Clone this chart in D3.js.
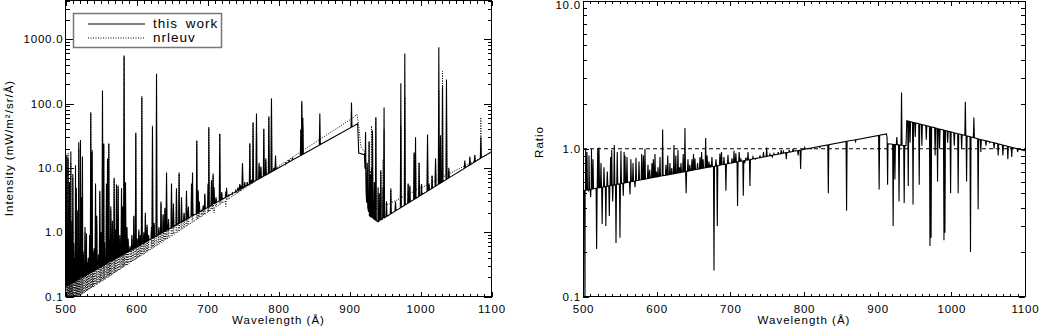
<!DOCTYPE html>
<html>
<head>
<meta charset="utf-8">
<script src="https://cdn.jsdelivr.net/npm/d3@7"></script>
<style>
    body { margin: 0; background: #fff; }
    svg text { font-family: "Liberation Sans", Arial, sans-serif; font-size: 11.5px; letter-spacing: 1px; fill: #000; }
    .axis text { letter-spacing: 0.8px; }
    .legend text { font-size: 13.5px; word-spacing: 3px; }
    .axis path.domain { display: none; }
    .axis line { stroke: #000; shape-rendering: crispEdges; }
</style>
</head>
<body>
<div class="spectra"></div>
<script>
var xTicks = [500, 600, 700, 800, 900, 1000, 1100];
var intensityTicks = [0.1, 1, 10, 100, 1000];
var ratioTicks = [0.1, 1, 10];
var legendNames = ["this work", "nrleuv"];

// continuum knots (wavelength in A, intensity)
var thisContWl = [500, 911.5, 913, 921, 924, 928, 940, 1100];
var thisContVal = [0.142, 48.5, 17, 16, 3, 1.8, 1.45, 17.9];
var nrlContWl = [500, 905, 910.5, 913, 916, 921, 924, 929, 940, 1100];
var nrlContVal = [0.074, 60, 68, 45, 21, 18, 5, 2.6, 2.25, 17.3];

// emission lines: wavelength, peak in this work, peak in nrleuv (0 = absent)
var lineWl = [501.8, 502.8, 503.7, 504.6, 505.6, 506.3, 507.5, 508.5, 509.3, 510.3, 511.7, 513.0, 514.1, 515.2, 516.3, 517.3, 518.7, 519.8,
    521.1, 522.5, 523.9, 525.0, 527.5, 529.6, 530.4, 532.0, 534.0, 535.6, 537.5, 538.8, 540.3, 542.3, 544.0, 546.5, 548.3, 550.0,
    552.1, 553.9, 555.0, 557.7, 559.2, 561.0, 562.4, 563.8, 566.0, 568.5, 570.0, 571.8, 574.1, 576.5, 578.9, 580.5, 582.5, 584.5,
    586.5, 588.2, 591.0, 593.5, 596.2, 599.0, 601.0, 603.3, 605.5, 607.5, 610.3, 612.5, 614.9, 617.0, 621.1, 622.5, 624.8, 628.2,
    631.5, 634.5, 637.5, 640.0, 642.3, 645.0, 649.3, 652.0, 656.3, 660.0, 663.4, 667.0, 670.4, 673.0, 677.5, 678.9, 684.9, 686.8,
    688.5, 691.6, 694.0, 696.2, 700.9, 701.8, 705.6, 707.9, 709.3, 712.0, 717.3, 720.0, 725.8, 726.8, 730.0, 735.0, 740.0, 743.0,
    745.5, 747.0, 749.3, 752.5, 756.0, 759.6, 762.0, 764.2, 769.0, 772.7, 775.1, 779.3, 782.1, 786.4, 790.1, 793.4, 795.8, 810.3,
    815.0, 819.7, 831.5, 832.8, 834.3, 858.2, 902.8, 922.6, 925.0, 927.6, 929.5, 931.0, 932.4, 935.0, 937.1, 940.3, 942.7, 944.1,
    947.3, 948.7, 952.1, 958.2, 964.8, 972.3, 977.9, 982.6, 985.0, 991.0, 993.0, 998.0, 1001.4, 1009.9, 1012.1, 1016.3, 1021.2,
    1025.8, 1028.2, 1031.0, 1036.6, 1039.9, 1062.4, 1069.5, 1076.5, 1085.0];
var thisPeak = [16, 0.9, 14, 2.5, 6, 0.5, 18, 0.36, 1.5, 8, 0.67, 0.4, 11, 4.9, 0.45, 2.2, 25, 0.6,
    27, 3.5, 15, 0.5, 1.2, 0.95, 0.34, 0.4, 0.9, 73, 18, 0.5, 0.56, 5.7, 1.8, 0.45, 4.4, 1.0,
    160, 24, 0.7, 5.7, 14, 24, 0.8, 2.5, 1.5, 7, 1.1, 5.5, 5.3, 0.9, 4.8, 2.5, 560, 6,
    1.2, 0.8, 0.6, 0.9, 1.8, 35, 0.8, 1.1, 0.9, 125, 1.0, 2.0, 1.3, 0.9, 1.2, 44, 1.4, 290,
    1.2, 3.0, 1.9, 2.4, 8.5, 1.6, 5.7, 2.8, 4.8, 8.5, 3.5, 2.0, 4.4, 2.5, 5.7, 8.5, 26.6, 4.5,
    3.0, 2.2, 2.6, 4, 5.7, 42.7, 6.4, 8.2, 5, 3.5, 34, 4.2, 4.3, 4.9, 3.8, 4.1, 4.5, 5.0,
    5.6, 5.3, 11.7, 6, 6.0, 24, 6.5, 51, 70, 12, 10.5, 40.6, 14, 63, 120, 10, 15.6, 11.7,
    13, 14, 40, 110, 60, 70, 104, 36, 12, 26, 8, 10, 38, 6, 61, 5, 4, 9.1,
    5, 87, 3, 4.8, 3, 206, 600, 5.7, 5.3, 17.4, 30, 12, 5.6, 33, 5.5, 7.6, 14,
    750, 32, 190, 236, 10, 13, 15, 16, 30];
var nrlPeak = [15, 0.8, 17, 2, 5, 0.4, 12, 0.3, 1.2, 7, 0.5, 0.35, 3, 4, 0.4, 2, 20, 0.5,
    26, 3, 14, 0.45, 1.0, 0.9, 0.3, 0.35, 0.8, 70, 19, 0.4, 0.4, 5, 1.5, 0.4, 4.2, 0.9,
    150, 23, 0.6, 5.5, 12, 24, 0.7, 2.2, 1.3, 6.5, 1.0, 5, 5, 0.8, 4.5, 2.3, 540, 5.5,
    1.1, 0.7, 0.6, 0.8, 1.7, 34, 0.7, 1.0, 0.8, 130, 0.9, 1.8, 1.2, 0.8, 1.1, 45, 1.3, 280,
    1.1, 2.8, 1.8, 2.2, 8, 1.5, 5.5, 2.6, 4.5, 8, 3.2, 1.9, 4.2, 2.4, 0, 2.5, 26, 4.2,
    2.9, 2.1, 2.5, 3.8, 5.5, 42, 6, 7.5, 2, 3.3, 34, 4, 2.5, 4.5, 3.6, 3.9, 4.3, 4.8,
    5.4, 5.1, 12, 5.5, 5.8, 24, 6.3, 50, 68, 11, 10, 40, 13, 62, 118, 9, 12, 11,
    12.5, 13.5, 38, 100, 45, 0, 0, 20, 10, 25, 9, 45, 30, 5, 60, 4, 4, 9,
    13.5, 40, 3, 4.5, 3, 45, 125, 5.5, 5, 17, 15, 12, 5.5, 30, 5, 7.5, 14,
    160, 30, 320, 200, 9, 12, 14, 15, 61];

// ratio panel: continuum knots and line features
var ratioContWl = [500, 912, 914, 938.5, 939.5, 1100];
var ratioContVal = [0.52, 1.26, 1.08, 1.05, 1.55, 0.97];
var ratioWl = [502.7, 503.6, 505.4, 507.2, 508.1, 510.4, 511.5, 513.6, 518.5, 520.0, 521.7, 524.4, 526.0, 528.5, 531.0, 533.0,
    535.7, 537.5, 539.0, 540.3, 542.5, 544.8, 546.5, 550.2, 551.5, 554.7, 555.8, 557.0, 559.7, 563.8, 565.0, 567.9, 570.6, 571.9,
    576.0, 579.7, 582.0, 584.1, 588.2, 590.5, 593.6, 595.5, 597.7, 599.5, 601.8, 604.5, 608.1, 612.6, 615.0, 618.0, 620.5, 623.5,
    626.0, 628.9, 631.0, 633.0, 636.0, 638.4, 640.0, 642.5, 645.0, 647.9, 650.0, 652.0, 655.5, 658.8, 661.0, 663.0, 666.5, 668.5,
    671.0, 673.0, 675.0, 677.8, 680.5, 682.3, 685.9, 688.0, 691.3, 694.0, 696.8, 699.0, 702.2, 705.0, 707.5, 709.8, 712.0, 714.4,
    717.6, 719.5, 721.2, 724.0, 726.6, 730.7, 734.0, 740.2, 745.0, 749.3, 753.8, 757.0, 759.2, 765.0, 769.0, 772.0, 776.0, 780.0,
    785.0, 788.0, 792.0, 795.4, 801.0, 810.0, 821.6, 833.0, 857.8, 870.0, 902.0,
    913.5, 921.0, 923.4, 926.0, 929.0, 932.4, 936.0, 941.5, 944.0, 948.0, 951.0, 956.4, 960.0, 966.0, 971.0, 972.5, 978.0, 981.3,
    984.0, 990.0, 991.3, 995.0, 999.0, 1004.0, 1009.3, 1014.0, 1019.0, 1020.7, 1026.0, 1030.6, 1036.4, 1040.0, 1047.0, 1052.0,
    1058.0, 1063.6, 1070.0, 1076.7, 1082.0, 1090.0];
var ratioVal = [0.09, 1.0, 0.95, 0.52, 0.9, 0.47, 1.0, 0.85, 0.21, 1.0, 1.02, 0.8, 0.31, 0.75, 0.3, 0.7,
    0.35, 0.88, 0.98, 0.44, 1.06, 0.23, 0.95, 0.25, 0.97, 0.48, 0.95, 0.9, 0.88, 0.49, 0.85, 0.8, 0.55, 0.87,
    0.82, 0.92, 0.9, 1.0, 0.78, 0.72, 0.8, 0.85, 0.92, 0.7, 0.75, 0.88, 1.35, 0.78, 0.9, 0.8, 0.74, 1.06,
    0.9, 0.98, 0.75, 0.8, 0.92, 1.38, 0.5, 0.85, 0.78, 0.85, 0.92, 0.86, 0.8, 0.88, 0.95, 0.85, 1.18, 0.9,
    0.82, 0.78, 0.88, 0.15, 0.85, 0.3, 0.93, 0.95, 0.88, 0.52, 0.91, 0.8, 0.86, 0.97, 0.93, 0.41, 0.95, 0.85,
    0.48, 0.8, 0.87, 0.95, 0.56, 0.88, 0.85, 0.9, 0.95, 1.02, 0.92, 0.88, 0.93, 0.95, 0.98, 0.96, 0.85, 0.98,
    1.0, 0.97, 0.9, 0.73, 1.02, 1.0, 1.02, 0.5, 0.38, 1.12, 0.53,
    0.57, 0.3, 0.62, 1.2, 0.44, 2.4, 0.43, 0.56, 1.1, 0.42, 1.2, 0.57, 1.05, 1.15, 0.22, 0.25, 0.9, 0.6,
    1.0, 0.24, 0.27, 1.1, 0.5, 1.05, 0.5, 1.0, 2.08, 0.6, 0.2, 1.63, 0.39, 0.95, 1.05, 1.1,
    1.0, 0.9, 0.9, 0.85, 0.88, 0.95];

var halfWidth = 0.7; // half base width of a line profile, A

function buildSpectrum(contWl, contVal, wls, peaks) {
    var base = d3.scaleLinear()
        .domain(contWl)
        .range(contVal.map(Math.log10));
    var pts = contWl.map(function (w, i) {
        return { wl: w, val: contVal[i] };
    });
    wls.forEach(function (w, i) {
        if (!peaks[i]) return;
        var b0 = Math.pow(10, base(w - halfWidth)),
            b1 = Math.pow(10, base(w + halfWidth));
        pts.push({ wl: w - halfWidth, val: b0 }, { wl: w, val: peaks[i] }, { wl: w + halfWidth, val: b1 });
    });
    pts.sort(function (a, b) { return a.wl - b.wl; });
    return pts;
}

var svg = d3.select(".spectra").append("svg")
    .attr("width", 1039)
    .attr("height", 329);

svg.append("rect")
    .attr("width", 1039)
    .attr("height", 329)
    .attr("fill", "#fff");

function drawPanel(opts) {
    var x = d3.scaleLinear().domain([500, 1100]).range([opts.left, opts.right]);
    var y = d3.scaleLog().domain(opts.yDomain).range([opts.bottom, opts.top]);

    var minorX = d3.range(510, 1100, 10).filter(function (d) { return d % 100 !== 0; });
    var minorY = [];
    opts.yTicks.forEach(function (t) {
        for (var k = 2; k <= 9; k++) {
            if (t * k <= opts.yDomain[1]) minorY.push(t * k);
        }
    });

    var g = svg.append("g");

    svg.append("clipPath")
        .attr("id", opts.id)
        .append("rect")
        .attr("x", opts.left)
        .attr("y", opts.top)
        .attr("width", opts.right - opts.left)
        .attr("height", opts.bottom - opts.top);

    var line = d3.line()
        .x(function (d) { return x(d.wl); })
        .y(function (d) { return y(Math.max(d.val, 1e-3)); });

    var plot = g.append("g").attr("clip-path", "url(#" + opts.id + ")");

    if (opts.refLine) {
        plot.append("path")
            .attr("d", d3.line()([[opts.left, y(opts.refLine)], [opts.right, y(opts.refLine)]]))
            .attr("stroke", "#000")
            .attr("stroke-width", 1)
            .attr("stroke-dasharray", "4,3")
            .attr("fill", "none");
    }

    opts.series.forEach(function (s) {
        plot.append("path")
            .attr("d", line(s.points))
            .attr("fill", "none")
            .attr("stroke", "#000")
            .attr("stroke-width", s.width)
            .attr("stroke-dasharray", s.dash)
            .attr("stroke-linejoin", "miter");
    });

    // axes, ticks pointing inside on all four sides
    g.append("g").attr("class", "axis")
        .attr("transform", "translate(0," + opts.bottom + ")")
        .call(d3.axisBottom(x).tickValues(xTicks).tickSize(-opts.xMajor).tickPadding(8).tickFormat(d3.format("d")));
    g.append("g").attr("class", "axis")
        .attr("transform", "translate(0," + opts.bottom + ")")
        .call(d3.axisBottom(x).tickValues(minorX).tickSize(-3).tickFormat(""));
    g.append("g").attr("class", "axis")
        .attr("transform", "translate(0," + opts.top + ")")
        .call(d3.axisTop(x).tickValues(xTicks).tickSize(-opts.xMajor).tickFormat(""));
    g.append("g").attr("class", "axis")
        .attr("transform", "translate(0," + opts.top + ")")
        .call(d3.axisTop(x).tickValues(minorX).tickSize(-3).tickFormat(""));

    var yAxis = g.append("g").attr("class", "axis")
        .attr("transform", "translate(" + opts.left + ",0)")
        .call(d3.axisLeft(y).tickValues(opts.yTicks).tickSize(-opts.yMajor).tickPadding(2).tickFormat(d3.format(".1f")));
    yAxis.selectAll("text")
        .filter(function (d) { return d === opts.yDomain[1]; })
        .attr("dy", "0.62em"); // keep the top label inside the window
    g.append("g").attr("class", "axis")
        .attr("transform", "translate(" + opts.left + ",0)")
        .call(d3.axisLeft(y).tickValues(minorY).tickSize(-4).tickFormat(""));
    g.append("g").attr("class", "axis")
        .attr("transform", "translate(" + opts.right + ",0)")
        .call(d3.axisRight(y).tickValues(opts.yTicks).tickSize(-opts.yMajor).tickFormat(""));
    g.append("g").attr("class", "axis")
        .attr("transform", "translate(" + opts.right + ",0)")
        .call(d3.axisRight(y).tickValues(minorY).tickSize(-4).tickFormat(""));

    g.selectAll(".axis").attr("font-size", null).attr("font-family", null);

    g.append("rect") // frame
        .attr("x", opts.left)
        .attr("y", opts.top)
        .attr("width", opts.right - opts.left)
        .attr("height", opts.bottom - opts.top)
        .attr("fill", "none")
        .attr("stroke", "#000")
        .attr("shape-rendering", "crispEdges");

    g.append("text") // x title
        .attr("x", (opts.left + opts.right) / 2)
        .attr("y", 324)
        .attr("text-anchor", "middle")
        .text("Wavelength (\u00c5)");

    g.append("text") // y title
        .attr("transform", "translate(" + opts.yTitleX + "," + opts.yTitleY + ") rotate(-90)")
        .attr("text-anchor", "middle")
        .text(opts.yTitle);

    return g;
}

var left = drawPanel({
    id: "clipIntensity",
    left: 65.5, right: 491.5, top: 0.5, bottom: 296.5,
    yDomain: [0.1, 4000],
    yTicks: intensityTicks,
    xMajor: 5, yMajor: 8,
    yTitle: "Intensity (mW/m\u00b2/sr/\u00c5)",
    yTitleX: 13, yTitleY: 148,
    series: [
        { points: buildSpectrum(nrlContWl, nrlContVal, lineWl, nrlPeak), width: 1, dash: "1,1.5" },
        { points: buildSpectrum(thisContWl, thisContVal, lineWl, thisPeak), width: 1.1, dash: null }
    ]
});

drawPanel({
    id: "clipRatio",
    left: 583, right: 1025, top: 1, bottom: 296.5,
    yDomain: [0.1, 10],
    yTicks: ratioTicks,
    xMajor: 5, yMajor: 6,
    yTitle: "Ratio",
    yTitleX: 543, yTitleY: 142,
    refLine: 1,
    series: [
        { points: buildSpectrum(ratioContWl, ratioContVal, ratioWl, ratioVal), width: 1.1, dash: null }
    ]
});

// legend
var legend = left.append("g").attr("class", "legend");
legend.append("rect")
    .attr("x", 73.5)
    .attr("y", 13.5)
    .attr("width", 148)
    .attr("height", 34)
    .attr("fill", "#fff")
    .attr("stroke", "#777")
    .attr("stroke-width", 1.5);

legend.selectAll(".entry")
    .data(legendNames)
    .enter()
    .append("g")
    .attr("class", "entry")
    .each(function (d, i) {
        var e = d3.select(this);
        e.append("path")
            .attr("d", d3.line()([[88, 24 + i * 14], [145, 24 + i * 14]]))
            .attr("stroke", "#000")
            .attr("stroke-width", 1)
            .attr("stroke-dasharray", i === 0 ? null : "1,1.5");
        e.append("text")
            .attr("x", 153)
            .attr("y", 28 + i * 14)
            .text(d);
    });
</script>
</body>
</html>
